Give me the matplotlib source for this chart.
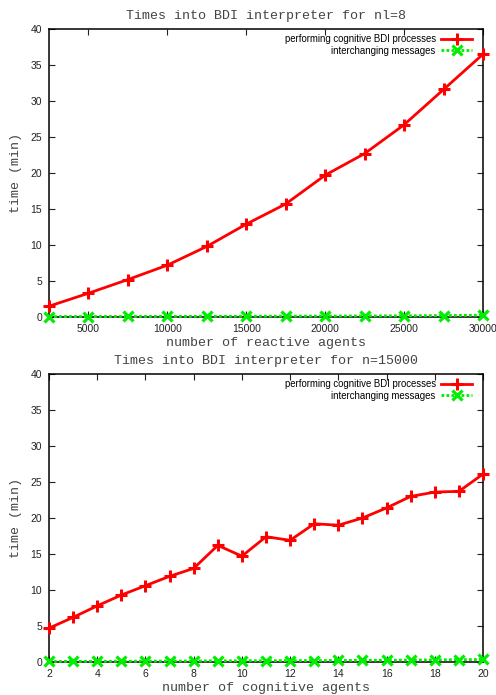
import matplotlib
matplotlib.use("Agg")
import matplotlib.pyplot as plt

# Run 1: varying number of reactive agents (nl = 8)
reactive_agents = [2500, 5000, 7500, 10000, 12500, 15000, 17500, 20000, 22500, 25000, 27500, 30000]
bdi_time_reactive = [1.5, 3.3, 5.2, 7.2, 9.8, 12.9, 15.7, 19.7, 22.7, 26.7, 31.6, 36.5]
msg_time_reactive = [0.05, 0.06, 0.07, 0.08, 0.09, 0.1, 0.12, 0.13, 0.15, 0.17, 0.2, 0.25]

# Run 2: varying number of cognitive agents (n = 15000)
cognitive_agents = list(range(2, 21))
bdi_time_cognitive = [4.7, 6.2, 7.8, 9.3, 10.6, 11.9, 13.0, 16.2, 14.7, 17.4, 16.9,
                      19.2, 19.0, 20.0, 21.4, 23.0, 23.6, 23.7, 26.1]
msg_time_cognitive = [0.08, 0.09, 0.1, 0.11, 0.12, 0.13, 0.14, 0.16, 0.17, 0.18, 0.19,
                      0.2, 0.21, 0.23, 0.25, 0.27, 0.3, 0.32, 0.35]

titles = ["Times into BDI interpreter for nl=8", "Times into BDI interpreter for n=15000"]
xlabels = ["number of reactive agents", "number of cognitive agents"]
ylabel = "time (min)"
legend_labels = ["performing cognitive BDI processes", "interchanging messages"]

mono = ["Liberation Mono", "DejaVu Sans Mono"]
sans = ["Liberation Sans", "DejaVu Sans"]

fig = plt.figure(figsize=(4.96, 6.95), dpi=100)
ax1 = fig.add_axes([49 / 496, 1 - 317 / 695, 434 / 496, 288 / 695])
ax2 = fig.add_axes([49 / 496, 1 - 662 / 695, 434 / 496, 288 / 695])


def draw(ax, x, bdi, msg, title, xlabel, xlim, xticks, xticklabels):
    ax.plot(x, bdi, color="#ff0000", lw=2.0, marker="+", ms=8, mew=2.2,
            label=legend_labels[0], clip_on=False, zorder=3)
    ax.plot(x, msg, color="#00ee00", lw=2.0, ls=(0, (1, 0.8)), marker="x", ms=6.5, mew=2.3,
            label=legend_labels[1], clip_on=False, zorder=4)
    ax.set_xlim(*xlim)
    ax.set_ylim(0, 40)
    ax.set_xticks(xticks)
    ax.set_xticklabels(xticklabels)
    ax.set_yticks(range(0, 41, 5))
    ax.tick_params(direction="in", length=4, width=0.8, top=True, right=True,
                   labelsize=7.5, colors="#222222")
    ax.tick_params(axis="x", pad=5)
    ax.tick_params(axis="y", pad=5)
    for lab in ax.get_xticklabels() + ax.get_yticklabels():
        lab.set_family(sans)
    for s in ax.spines.values():
        s.set_linewidth(1.1)
    ax.set_title(title, family=mono, fontsize=9.6, color="#444444", pad=7)
    ax.set_xlabel(xlabel, family=mono, fontsize=9.6, color="#444444", labelpad=2)
    ax.set_ylabel(ylabel, family=mono, fontsize=9.6, color="#444444", labelpad=6)
    leg = ax.legend(loc="upper right", bbox_to_anchor=(0.975, 0.983), frameon=False,
                    markerfirst=False, prop={"family": sans, "size": 6.9},
                    handlelength=3.2, labelspacing=0.2, borderaxespad=0.0,
                    borderpad=0.0, handletextpad=0.6, alignment="right")
    for t in leg.get_texts():
        t.set_ha("right")


draw(ax1, reactive_agents, bdi_time_reactive, msg_time_reactive, titles[0], xlabels[0],
     (2500, 30000), [5000, 10000, 15000, 20000, 25000, 30000],
     ["5000", "10000", "15000", "20000", "25000", "30000"])
draw(ax2, cognitive_agents, bdi_time_cognitive, msg_time_cognitive, titles[1], xlabels[1],
     (2, 20), list(range(2, 21, 2)), [str(v) for v in range(2, 21, 2)])

fig.savefig("out.png", dpi=100)
